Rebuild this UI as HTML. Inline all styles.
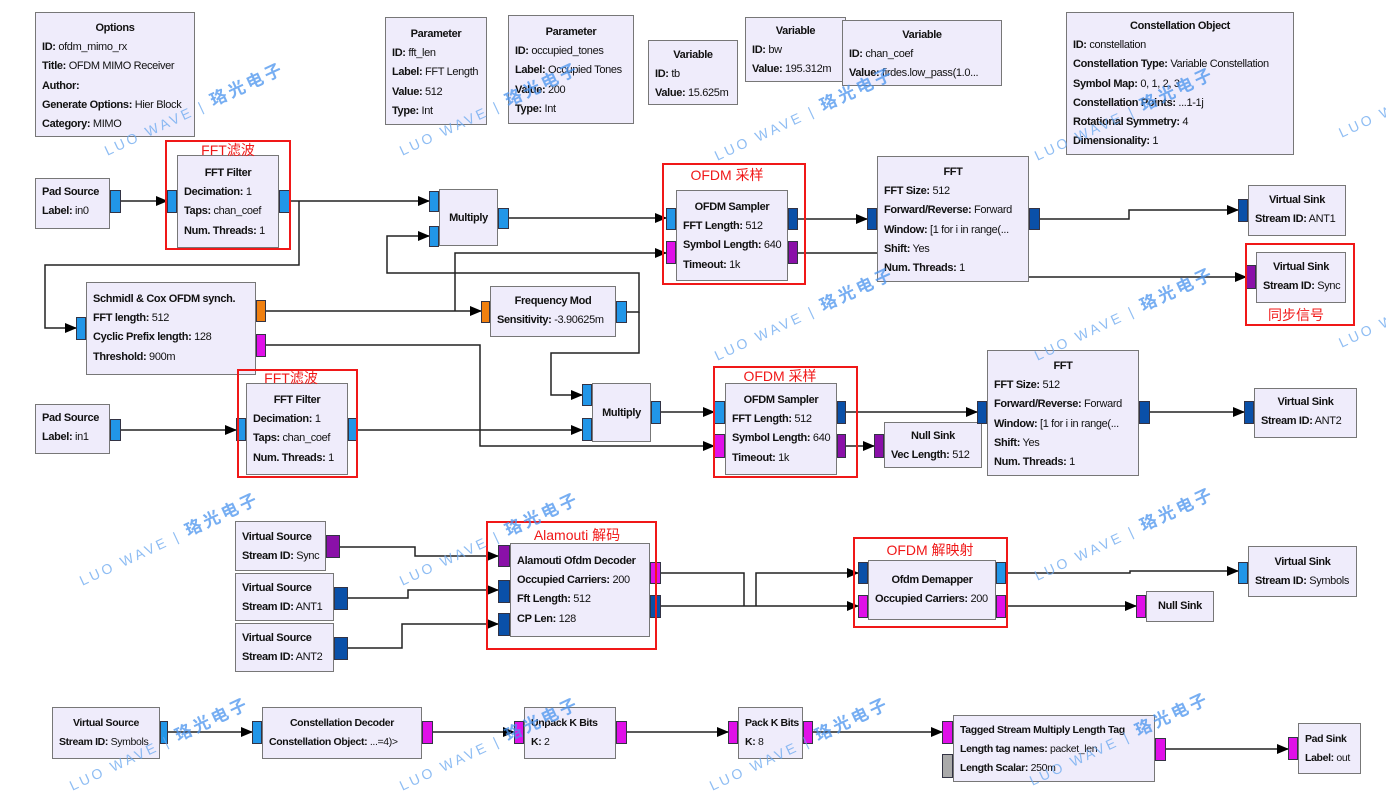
<!DOCTYPE html>
<html><head><meta charset="utf-8">
<style>
body{margin:0;width:1386px;height:791px;background:#fff;position:relative;overflow:hidden;font-family:"Liberation Sans","Noto Sans CJK SC",sans-serif}
.b{position:absolute;background:#efecfb;border:1px solid #777;box-sizing:border-box;font-size:11px;line-height:19.2px;padding:6px 6px 0;white-space:nowrap;overflow:hidden;letter-spacing:-0.35px;color:#111}
.b .t{text-align:center;font-weight:bold}
.b b{font-weight:bold}
.p{position:absolute;border:1px solid #334;box-sizing:border-box}
.lb{background:#2196e8}.db{background:#0a50a8}.mg{background:#e010e8}.pu{background:#8a10a8}.or{background:#f08010}.gr{background:#aaa}
.r{position:absolute;border:2px solid #f01818;box-sizing:border-box}
.rl{position:absolute;color:#f01818;font-size:14px;white-space:nowrap;transform:translateX(-50%)}
.wm{position:absolute;color:#6aa8f0;font-size:14px;white-space:nowrap;transform:rotate(-25deg);opacity:.75;letter-spacing:3px}
.wm span{font-weight:bold;font-size:17px;color:#4a94ee}
svg{position:absolute;left:0;top:0}
</style></head><body>
<svg width="1386" height="791">
<defs><marker id="a" markerWidth="12" markerHeight="10" refX="11" refY="5" orient="auto" markerUnits="userSpaceOnUse"><path d="M0,0 L12,5 L0,10 z" fill="#000"/></marker></defs>
<g fill="none" stroke="#222" stroke-width="1.5">
<polyline points="121,201 167,201" marker-end="url(#a)"/>
<polyline points="290,201 429,201" marker-end="url(#a)"/>
<polyline points="299,201 299,265 45,265 45,328 76,328" marker-end="url(#a)"/>
<polyline points="509,218 666,218" marker-end="url(#a)"/>
<polyline points="627,312 639,312 639,273 387,273 387,236 429,236" marker-end="url(#a)"/>
<polyline points="639,312 639,353 551,353 551,395 582,395" marker-end="url(#a)"/>
<polyline points="266,311 481,311" marker-end="url(#a)"/>
<polyline points="455,311 455,253 666,253" marker-end="url(#a)"/>
<polyline points="266,345 480,345 480,446 714,446" marker-end="url(#a)"/>
<polyline points="121,430 236,430" marker-end="url(#a)"/>
<polyline points="358,430 582,430" marker-end="url(#a)"/>
<polyline points="661,412 714,412" marker-end="url(#a)"/>
<polyline points="798,219 867,219" marker-end="url(#a)"/>
<polyline points="798,253 877,253"/>
<polyline points="1029,277 1246,277" marker-end="url(#a)"/>
<polyline points="1040,219 1129,219 1129,210 1238,210" marker-end="url(#a)"/>
<polyline points="845,412 977,412" marker-end="url(#a)"/>
<polyline points="845,446 874,446" marker-end="url(#a)"/>
<polyline points="1150,412 1244,412" marker-end="url(#a)"/>
<polyline points="340,547 415,547 415,556 498,556" marker-end="url(#a)"/>
<polyline points="348,598 408,598 408,590 498,590" marker-end="url(#a)"/>
<polyline points="348,648 402,648 402,624 498,624" marker-end="url(#a)"/>
<polyline points="661,573 744,573 744,606"/>
<polyline points="661,606 858,606" marker-end="url(#a)"/>
<polyline points="756,606 756,573 858,573" marker-end="url(#a)"/>
<polyline points="1006,573 1130,573 1130,571 1238,571" marker-end="url(#a)"/>
<polyline points="1006,606 1136,606" marker-end="url(#a)"/>
<polyline points="167,732 252,732" marker-end="url(#a)"/>
<polyline points="433,732 514,732" marker-end="url(#a)"/>
<polyline points="627,732 728,732" marker-end="url(#a)"/>
<polyline points="813,732 942,732" marker-end="url(#a)"/>
<polyline points="1166,749 1288,749" marker-end="url(#a)"/>
</g></svg>

<div class="b" style="left:35px;top:12px;width:160px;height:125px"><div class="t">Options</div><div><b>ID:</b> ofdm_mimo_rx</div><div><b>Title:</b> OFDM MIMO Receiver</div><div><b>Author:</b></div><div><b>Generate Options:</b> Hier Block</div><div><b>Category:</b> MIMO</div></div>
<div class="b" style="left:385px;top:17px;width:102px;height:108px;padding-top:7px"><div class="t">Parameter</div><div><b>ID:</b> fft_len</div><div><b>Label:</b> FFT Length</div><div><b>Value:</b> 512</div><div><b>Type:</b> Int</div></div>
<div class="b" style="left:508px;top:15px;width:126px;height:109px;padding-top:7px"><div class="t">Parameter</div><div><b>ID:</b> occupied_tones</div><div><b>Label:</b> Occupied Tones</div><div><b>Value:</b> 200</div><div><b>Type:</b> Int</div></div>
<div class="b" style="left:648px;top:40px;width:90px;height:65px;padding-top:5px"><div class="t">Variable</div><div><b>ID:</b> tb</div><div><b>Value:</b> 15.625m</div></div>
<div class="b" style="left:745px;top:17px;width:101px;height:65px;padding-top:4px"><div class="t">Variable</div><div><b>ID:</b> bw</div><div><b>Value:</b> 195.312m</div></div>
<div class="b" style="left:842px;top:20px;width:160px;height:66px;padding-top:5px"><div class="t">Variable</div><div><b>ID:</b> chan_coef</div><div><b>Value:</b> firdes.low_pass(1.0...</div></div>
<div class="b" style="left:1066px;top:12px;width:228px;height:143px;padding-top:4px"><div class="t">Constellation Object</div><div><b>ID:</b> constellation</div><div><b>Constellation Type:</b> Variable Constellation</div><div><b>Symbol Map:</b> 0, 1, 2, 3</div><div><b>Constellation Points:</b> ...1-1j</div><div><b>Rotational Symmetry:</b> 4</div><div><b>Dimensionality:</b> 1</div></div>

<div class="b" style="left:35px;top:178px;width:75px;height:51px;padding-top:4px"><div><b>Pad Source</b></div><div><b>Label:</b> in0</div></div>
<div class="p lb" style="left:110px;top:190px;width:11px;height:23px"></div>
<div class="b" style="left:177px;top:155px;width:102px;height:93px;padding-top:8px"><div class="t">FFT Filter</div><div><b>Decimation:</b> 1</div><div><b>Taps:</b> chan_coef</div><div><b>Num. Threads:</b> 1</div></div>
<div class="p lb" style="left:167px;top:190px;width:10px;height:23px"></div>
<div class="p lb" style="left:279px;top:190px;width:11px;height:23px"></div>
<div class="r" style="left:165px;top:140px;width:126px;height:110px"></div><div class="rl" style="left:228px;top:140px">FFT滤波</div>

<div class="b" style="left:439px;top:189px;width:59px;height:57px;padding-top:19px"><div class="t">Multiply</div></div>
<div class="p lb" style="left:429px;top:191px;width:10px;height:21px"></div>
<div class="p lb" style="left:429px;top:226px;width:10px;height:21px"></div>
<div class="p lb" style="left:498px;top:208px;width:11px;height:21px"></div>

<div class="b" style="left:676px;top:190px;width:112px;height:91px;padding-top:7px"><div class="t">OFDM Sampler</div><div><b>FFT Length:</b> 512</div><div><b>Symbol Length:</b> 640</div><div><b>Timeout:</b> 1k</div></div>
<div class="p lb" style="left:666px;top:208px;width:10px;height:22px"></div>
<div class="p mg" style="left:666px;top:241px;width:10px;height:23px"></div>
<div class="p db" style="left:788px;top:208px;width:10px;height:22px"></div>
<div class="p pu" style="left:788px;top:241px;width:10px;height:23px"></div>
<div class="r" style="left:662px;top:163px;width:144px;height:122px"></div><div class="rl" style="left:727px;top:165px">OFDM 采样</div>

<div class="b" style="left:877px;top:156px;width:152px;height:126px;padding-top:6px"><div class="t">FFT</div><div><b>FFT Size:</b> 512</div><div><b>Forward/Reverse:</b> Forward</div><div><b>Window:</b> [1 for i in range(...</div><div><b>Shift:</b> Yes</div><div><b>Num. Threads:</b> 1</div></div>
<div class="p db" style="left:867px;top:208px;width:10px;height:22px"></div>
<div class="p db" style="left:1029px;top:208px;width:11px;height:22px"></div>

<div class="b" style="left:1248px;top:185px;width:98px;height:51px;padding-top:5px"><div class="t">Virtual Sink</div><div><b>Stream ID:</b> ANT1</div></div>
<div class="p db" style="left:1238px;top:199px;width:10px;height:23px"></div>
<div class="b" style="left:1256px;top:252px;width:90px;height:51px;padding-top:5px"><div class="t">Virtual Sink</div><div><b>Stream ID:</b> Sync</div></div>
<div class="p pu" style="left:1246px;top:265px;width:10px;height:24px"></div>
<div class="r" style="left:1245px;top:243px;width:110px;height:83px"></div><div class="rl" style="left:1296px;top:305px">同步信号</div>

<div class="b" style="left:86px;top:282px;width:170px;height:93px;padding-top:7px"><div><b>Schmidl &amp; Cox OFDM synch.</b></div><div><b>FFT length:</b> 512</div><div><b>Cyclic Prefix length:</b> 128</div><div><b>Threshold:</b> 900m</div></div>
<div class="p lb" style="left:76px;top:317px;width:10px;height:23px"></div>
<div class="p or" style="left:256px;top:300px;width:10px;height:22px"></div>
<div class="p mg" style="left:256px;top:334px;width:10px;height:23px"></div>
<div class="b" style="left:490px;top:286px;width:126px;height:51px;padding-top:5px"><div class="t">Frequency Mod</div><div><b>Sensitivity:</b> -3.90625m</div></div>
<div class="p or" style="left:481px;top:301px;width:9px;height:22px"></div>
<div class="p lb" style="left:616px;top:301px;width:11px;height:22px"></div>

<div class="b" style="left:35px;top:404px;width:75px;height:50px;padding-top:4px"><div><b>Pad Source</b></div><div><b>Label:</b> in1</div></div>
<div class="p lb" style="left:110px;top:419px;width:11px;height:22px"></div>
<div class="b" style="left:246px;top:383px;width:102px;height:92px;padding-top:7px"><div class="t">FFT Filter</div><div><b>Decimation:</b> 1</div><div><b>Taps:</b> chan_coef</div><div><b>Num. Threads:</b> 1</div></div>
<div class="p lb" style="left:236px;top:418px;width:10px;height:23px"></div>
<div class="p lb" style="left:348px;top:418px;width:10px;height:23px"></div>
<div class="r" style="left:237px;top:369px;width:121px;height:109px"></div><div class="rl" style="left:291px;top:368px">FFT滤波</div>
<div class="b" style="left:592px;top:383px;width:59px;height:59px;padding-top:20px"><div class="t">Multiply</div></div>
<div class="p lb" style="left:582px;top:384px;width:10px;height:22px"></div>
<div class="p lb" style="left:582px;top:418px;width:10px;height:23px"></div>
<div class="p lb" style="left:651px;top:401px;width:10px;height:23px"></div>
<div class="b" style="left:725px;top:383px;width:112px;height:92px;padding-top:7px"><div class="t">OFDM Sampler</div><div><b>FFT Length:</b> 512</div><div><b>Symbol Length:</b> 640</div><div><b>Timeout:</b> 1k</div></div>
<div class="p lb" style="left:714px;top:401px;width:11px;height:23px"></div>
<div class="p mg" style="left:714px;top:434px;width:11px;height:24px"></div>
<div class="p db" style="left:837px;top:401px;width:9px;height:23px"></div>
<div class="p pu" style="left:837px;top:434px;width:9px;height:24px"></div>
<div class="r" style="left:713px;top:366px;width:145px;height:112px"></div><div class="rl" style="left:780px;top:366px">OFDM 采样</div>
<div class="b" style="left:884px;top:422px;width:98px;height:46px;padding-top:4px"><div class="t">Null Sink</div><div><b>Vec Length:</b> 512</div></div>
<div class="p pu" style="left:874px;top:434px;width:10px;height:24px"></div>
<div class="b" style="left:987px;top:350px;width:152px;height:126px;padding-top:6px"><div class="t">FFT</div><div><b>FFT Size:</b> 512</div><div><b>Forward/Reverse:</b> Forward</div><div><b>Window:</b> [1 for i in range(...</div><div><b>Shift:</b> Yes</div><div><b>Num. Threads:</b> 1</div></div>
<div class="p db" style="left:977px;top:401px;width:10px;height:23px"></div>
<div class="p db" style="left:1139px;top:401px;width:11px;height:23px"></div>
<div class="b" style="left:1254px;top:388px;width:103px;height:50px;padding-top:4px"><div class="t">Virtual Sink</div><div><b>Stream ID:</b> ANT2</div></div>
<div class="p db" style="left:1244px;top:401px;width:10px;height:23px"></div>

<div class="b" style="left:235px;top:521px;width:91px;height:50px;padding-top:6px"><div><b>Virtual Source</b></div><div><b>Stream ID:</b> Sync</div></div>
<div class="p pu" style="left:326px;top:535px;width:14px;height:23px"></div>
<div class="b" style="left:235px;top:573px;width:99px;height:48px;padding-top:5px"><div><b>Virtual Source</b></div><div><b>Stream ID:</b> ANT1</div></div>
<div class="p db" style="left:334px;top:587px;width:14px;height:23px"></div>
<div class="b" style="left:235px;top:623px;width:99px;height:49px;padding-top:5px"><div><b>Virtual Source</b></div><div><b>Stream ID:</b> ANT2</div></div>
<div class="p db" style="left:334px;top:637px;width:14px;height:23px"></div>
<div class="b" style="left:510px;top:543px;width:140px;height:94px;padding-top:8px"><div><b>Alamouti Ofdm Decoder</b></div><div><b>Occupied Carriers:</b> 200</div><div><b>Fft Length:</b> 512</div><div><b>CP Len:</b> 128</div></div>
<div class="p pu" style="left:498px;top:545px;width:12px;height:22px"></div>
<div class="p db" style="left:498px;top:580px;width:12px;height:23px"></div>
<div class="p db" style="left:498px;top:613px;width:12px;height:23px"></div>
<div class="p mg" style="left:650px;top:562px;width:11px;height:22px"></div>
<div class="p db" style="left:650px;top:595px;width:11px;height:23px"></div>
<div class="r" style="left:486px;top:521px;width:171px;height:129px"></div><div class="rl" style="left:577px;top:525px">Alamouti 解码</div>
<div class="b" style="left:868px;top:560px;width:128px;height:60px;padding-top:10px"><div class="t">Ofdm Demapper</div><div><b>Occupied Carriers:</b> 200</div></div>
<div class="p db" style="left:858px;top:562px;width:10px;height:22px"></div>
<div class="p mg" style="left:858px;top:595px;width:10px;height:23px"></div>
<div class="p lb" style="left:996px;top:562px;width:10px;height:22px"></div>
<div class="p mg" style="left:996px;top:595px;width:10px;height:23px"></div>
<div class="r" style="left:853px;top:537px;width:155px;height:91px"></div><div class="rl" style="left:930px;top:540px">OFDM 解映射</div>
<div class="b" style="left:1248px;top:546px;width:109px;height:51px;padding-top:6px"><div class="t">Virtual Sink</div><div><b>Stream ID:</b> Symbols</div></div>
<div class="p lb" style="left:1238px;top:562px;width:10px;height:22px"></div>
<div class="b" style="left:1146px;top:591px;width:68px;height:31px;padding-top:5px"><div class="t">Null Sink</div></div>
<div class="p mg" style="left:1136px;top:595px;width:10px;height:23px"></div>

<div class="b" style="left:52px;top:707px;width:108px;height:52px;padding-top:6px;font-size:10.5px"><div class="t">Virtual Source</div><div><b>Stream ID:</b> Symbols</div></div>
<div class="p lb" style="left:160px;top:721px;width:8px;height:23px"></div>
<div class="b" style="left:262px;top:707px;width:160px;height:52px;padding-top:6px;font-size:10.5px"><div class="t">Constellation Decoder</div><div><b>Constellation Object:</b> ...=4)&gt;</div></div>
<div class="p lb" style="left:252px;top:721px;width:10px;height:23px"></div>
<div class="p mg" style="left:422px;top:721px;width:11px;height:23px"></div>
<div class="b" style="left:524px;top:707px;width:92px;height:52px;padding-top:6px;font-size:10.5px"><div><b>Unpack K Bits</b></div><div><b>K:</b> 2</div></div>
<div class="p mg" style="left:514px;top:721px;width:10px;height:23px"></div>
<div class="p mg" style="left:616px;top:721px;width:11px;height:23px"></div>
<div class="b" style="left:738px;top:707px;width:65px;height:52px;padding-top:6px;font-size:10.5px"><div><b>Pack K Bits</b></div><div><b>K:</b> 8</div></div>
<div class="p mg" style="left:728px;top:721px;width:10px;height:23px"></div>
<div class="p mg" style="left:803px;top:721px;width:10px;height:23px"></div>
<div class="b" style="left:953px;top:715px;width:202px;height:67px;padding-top:5px;font-size:10.5px"><div><b>Tagged Stream Multiply Length Tag</b></div><div><b>Length tag names:</b> packet_len</div><div><b>Length Scalar:</b> 250m</div></div>
<div class="p mg" style="left:942px;top:721px;width:11px;height:23px"></div>
<div class="p gr" style="left:942px;top:754px;width:11px;height:24px"></div>
<div class="p mg" style="left:1155px;top:738px;width:11px;height:23px"></div>
<div class="b" style="left:1298px;top:723px;width:63px;height:51px;padding-top:6px;font-size:10.5px"><div><b>Pad Sink</b></div><div><b>Label:</b> out</div></div>
<div class="p mg" style="left:1288px;top:737px;width:10px;height:23px"></div>

<div class="wm" style="left:95px;top:95px">LUO WAVE | <span>珞光电子</span></div>
<div class="wm" style="left:705px;top:100px">LUO WAVE | <span>珞光电子</span></div>
<div class="wm" style="left:1025px;top:100px">LUO WAVE | <span>珞光电子</span></div>
<div class="wm" style="left:390px;top:95px">LUO WAVE | <span>珞光电子</span></div>
<div class="wm" style="left:1335px;top:105px">LUO WAVE</div>
<div class="wm" style="left:705px;top:300px">LUO WAVE | <span>珞光电子</span></div>
<div class="wm" style="left:1025px;top:300px">LUO WAVE | <span>珞光电子</span></div>
<div class="wm" style="left:70px;top:525px">LUO WAVE | <span>珞光电子</span></div>
<div class="wm" style="left:390px;top:525px">LUO WAVE | <span>珞光电子</span></div>
<div class="wm" style="left:1025px;top:520px">LUO WAVE | <span>珞光电子</span></div>
<div class="wm" style="left:1335px;top:315px">LUO WAVE</div>
<div class="wm" style="left:60px;top:730px">LUO WAVE | <span>珞光电子</span></div>
<div class="wm" style="left:390px;top:730px">LUO WAVE | <span>珞光电子</span></div>
<div class="wm" style="left:700px;top:730px">LUO WAVE | <span>珞光电子</span></div>
<div class="wm" style="left:1020px;top:725px">LUO WAVE | <span>珞光电子</span></div>
</body></html>
